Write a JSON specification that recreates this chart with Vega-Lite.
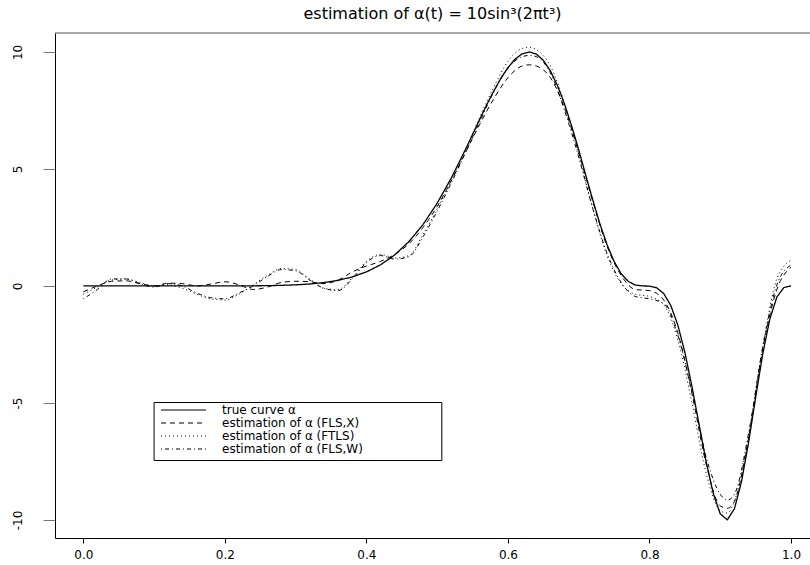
{
  "$schema": "https://vega.github.io/schema/vega-lite/v6.json",
  "width": 755,
  "height": 505,
  "autosize": {"type": "none"},
  "padding": {"left": 55, "top": 33, "right": 0, "bottom": 27},
  "background": "white",
  "title": {"text": "estimation of α(t) = 10sin³(2πt³)", "font": "DejaVu Sans", "fontSize": 16, "fontWeight": "normal", "color": "black", "offset": 11, "anchor": "middle"},
  "datasets": {
    "truth": [
      {"t": 0, "y": 0}, {"t": 0.05, "y": 0}, {"t": 0.1, "y": 0}, {"t": 0.15, "y": 0.0001},
      {"t": 0.2, "y": 0.0013}, {"t": 0.22, "y": 0.003}, {"t": 0.24, "y": 0.0065}, {"t": 0.26, "y": 0.013},
      {"t": 0.28, "y": 0.026}, {"t": 0.3, "y": 0.048}, {"t": 0.32, "y": 0.085}, {"t": 0.34, "y": 0.146},
      {"t": 0.36, "y": 0.241}, {"t": 0.38, "y": 0.386}, {"t": 0.4, "y": 0.6}, {"t": 0.42, "y": 0.905},
      {"t": 0.44, "y": 1.327}, {"t": 0.46, "y": 1.892}, {"t": 0.48, "y": 2.625}, {"t": 0.5, "y": 3.536},
      {"t": 0.52, "y": 4.616}, {"t": 0.54, "y": 5.835}, {"t": 0.56, "y": 7.111}, {"t": 0.57, "y": 7.742},
      {"t": 0.58, "y": 8.33}, {"t": 0.59, "y": 8.874}, {"t": 0.6, "y": 9.333}, {"t": 0.61, "y": 9.69},
      {"t": 0.62, "y": 9.92}, {"t": 0.63, "y": 10}, {"t": 0.64, "y": 9.911}, {"t": 0.65, "y": 9.646},
      {"t": 0.66, "y": 9.19}, {"t": 0.67, "y": 8.562}, {"t": 0.68, "y": 7.767}, {"t": 0.69, "y": 6.833},
      {"t": 0.7, "y": 5.821}, {"t": 0.71, "y": 4.725}, {"t": 0.72, "y": 3.662}, {"t": 0.73, "y": 2.649},
      {"t": 0.74, "y": 1.764}, {"t": 0.75, "y": 1.048}, {"t": 0.76, "y": 0.521}, {"t": 0.77, "y": 0.196},
      {"t": 0.78, "y": 0.04}, {"t": 0.79, "y": 0.001}, {"t": 0.8, "y": -0.004}, {"t": 0.81, "y": -0.076},
      {"t": 0.82, "y": -0.319}, {"t": 0.83, "y": -0.828}, {"t": 0.84, "y": -1.665}, {"t": 0.85, "y": -2.838},
      {"t": 0.86, "y": -4.295}, {"t": 0.87, "y": -5.911}, {"t": 0.88, "y": -7.504}, {"t": 0.89, "y": -8.854},
      {"t": 0.9, "y": -9.742}, {"t": 0.91, "y": -9.992}, {"t": 0.92, "y": -9.522}, {"t": 0.93, "y": -8.365},
      {"t": 0.94, "y": -6.688}, {"t": 0.95, "y": -4.763}, {"t": 0.96, "y": -2.908}, {"t": 0.97, "y": -1.419},
      {"t": 0.98, "y": -0.471}, {"t": 0.99, "y": -0.064}, {"t": 1, "y": 0}
    ],
    "est": [
      {"t": 0, "X": -0.25, "F": -0.35, "W": -0.55},
      {"t": 0.02, "X": 0.0, "F": -0.05, "W": -0.15},
      {"t": 0.04, "X": 0.2, "F": 0.25, "W": 0.3},
      {"t": 0.06, "X": 0.22, "F": 0.3, "W": 0.3},
      {"t": 0.08, "X": 0.1, "F": 0.15, "W": 0.1},
      {"t": 0.1, "X": 0.0, "F": 0.0, "W": -0.05},
      {"t": 0.12, "X": 0.12, "F": 0.05, "W": 0.1},
      {"t": 0.14, "X": 0.1, "F": -0.1, "W": 0.0},
      {"t": 0.16, "X": 0.0, "F": -0.35, "W": -0.3},
      {"t": 0.18, "X": 0.08, "F": -0.55, "W": -0.5},
      {"t": 0.2, "X": 0.18, "F": -0.6, "W": -0.55},
      {"t": 0.22, "X": 0.05, "F": -0.35, "W": -0.3},
      {"t": 0.24, "X": -0.15, "F": 0.05, "W": 0.0},
      {"t": 0.26, "X": -0.05, "F": 0.45, "W": 0.4},
      {"t": 0.28, "X": 0.15, "F": 0.75, "W": 0.7},
      {"t": 0.3, "X": 0.2, "F": 0.7, "W": 0.65},
      {"t": 0.32, "X": 0.18, "F": 0.3, "W": 0.25},
      {"t": 0.34, "X": 0.1, "F": -0.1, "W": -0.1},
      {"t": 0.36, "X": 0.25, "F": -0.15, "W": -0.2},
      {"t": 0.38, "X": 0.6, "F": 0.35, "W": 0.3},
      {"t": 0.4, "X": 0.85, "F": 1.05, "W": 1.0},
      {"t": 0.42, "X": 1.05, "F": 1.35, "W": 1.3},
      {"t": 0.44, "X": 1.35, "F": 1.2, "W": 1.15},
      {"t": 0.46, "X": 1.8, "F": 1.3, "W": 1.25},
      {"t": 0.48, "X": 2.5, "F": 2.2, "W": 2.1},
      {"t": 0.5, "X": 3.4, "F": 3.3, "W": 3.2},
      {"t": 0.52, "X": 4.5, "F": 4.5, "W": 4.4},
      {"t": 0.54, "X": 5.7, "F": 5.8, "W": 5.7},
      {"t": 0.56, "X": 6.9, "F": 7.2, "W": 7.0},
      {"t": 0.58, "X": 8.0, "F": 8.5, "W": 8.3},
      {"t": 0.6, "X": 8.9, "F": 9.6, "W": 9.3},
      {"t": 0.62, "X": 9.4, "F": 10.15, "W": 9.8},
      {"t": 0.63, "X": 9.45, "F": 10.2, "W": 9.85},
      {"t": 0.64, "X": 9.4, "F": 10.1, "W": 9.8},
      {"t": 0.66, "X": 8.9, "F": 9.4, "W": 9.1},
      {"t": 0.68, "X": 7.6, "F": 7.8, "W": 7.5},
      {"t": 0.7, "X": 5.7, "F": 5.6, "W": 5.5},
      {"t": 0.72, "X": 3.6, "F": 3.3, "W": 3.3},
      {"t": 0.74, "X": 1.7, "F": 1.3, "W": 1.4},
      {"t": 0.76, "X": 0.45, "F": 0.1, "W": 0.15},
      {"t": 0.78, "X": -0.15, "F": -0.35, "W": -0.45},
      {"t": 0.8, "X": -0.2, "F": -0.45, "W": -0.55},
      {"t": 0.82, "X": -0.6, "F": -0.8, "W": -0.75},
      {"t": 0.84, "X": -2.0, "F": -2.3, "W": -2.1},
      {"t": 0.86, "X": -4.6, "F": -5.0, "W": -4.5},
      {"t": 0.88, "X": -7.6, "F": -8.0, "W": -7.3},
      {"t": 0.9, "X": -9.4, "F": -9.6, "W": -8.9},
      {"t": 0.91, "X": -9.5, "F": -9.7, "W": -9.15},
      {"t": 0.92, "X": -9.2, "F": -9.2, "W": -8.9},
      {"t": 0.94, "X": -6.5, "F": -6.4, "W": -6.3},
      {"t": 0.96, "X": -2.7, "F": -2.6, "W": -2.6},
      {"t": 0.98, "X": -0.15, "F": 0.3, "W": 0.05},
      {"t": 1, "X": 0.8, "F": 1.1, "W": 0.9}
    ]
  },
  "layer": [
    {
      "data": {"values": [{}]},
      "mark": {"type": "rule", "color": "#555555", "strokeWidth": 1},
      "encoding": {"y": {"datum": 10.81, "type": "quantitative"}}
    },
    {
      "data": {"values": [{}]},
      "mark": {"type": "rect", "fill": "transparent", "stroke": "black", "strokeWidth": 1},
      "encoding": {
        "x": {"datum": 0.1, "type": "quantitative"},
        "x2": {"datum": 0.5066},
        "y": {"datum": -4.98, "type": "quantitative"},
        "y2": {"datum": -7.46}
      }
    },
    {
      "data": {"name": "est"},
      "transform": [{"fold": ["X", "F", "W"], "as": ["s", "y"]}],
      "mark": {"type": "line", "interpolate": "monotone", "strokeWidth": 1, "color": "black"},
      "encoding": {
        "x": {
          "field": "t", "type": "quantitative",
          "scale": {"domain": [-0.04, 1.0268], "nice": false, "zero": false},
          "axis": {"values": [0, 0.2, 0.4, 0.6, 0.8, 1], "format": ".1f", "title": null, "grid": false,
                   "domainColor": "black", "tickColor": "black", "tickSize": 5, "labelPadding": 6,
                   "labelFont": "DejaVu Sans", "labelFontSize": 12, "labelColor": "black", "labelFlush": false}
        },
        "y": {
          "field": "y", "type": "quantitative",
          "scale": {"domain": [-10.77, 10.81], "nice": false, "zero": false},
          "axis": {"values": [-10, -5, 0, 5, 10], "title": null, "grid": false, "labelExpr": "'' + datum.value",
                   "domainColor": "black", "tickColor": "#777777", "tickSize": 12, "labelAngle": 270,
                   "labelAlign": "center", "labelBaseline": "bottom", "labelPadding": 19,
                   "labelFont": "DejaVu Sans", "labelFontSize": 12, "labelColor": "black"}
        },
        "strokeDash": {
          "field": "s", "type": "nominal",
          "scale": {"domain": ["T", "X", "F", "W"], "range": [[1, 0], [5, 4], [1, 3], [1, 3, 4, 3]]},
          "legend": {
            "title": null, "orient": "none", "legendX": 99, "legendY": 367,
            "symbolType": "M-0.6,0H8.4", "symbolSize": 100, "symbolStrokeWidth": 1,
            "symbolStrokeColor": "black", "symbolFillColor": "transparent",
            "labelOffset": 52, "labelFont": "DejaVu Sans", "labelFontSize": 12, "labelColor": "black",
            "padding": 4, "rowPadding": 1,
            "labelExpr": "datum.value == 'T' ? 'true curve α' : datum.value == 'X' ? 'estimation of α (FLS,X)' : datum.value == 'F' ? 'estimation of α (FTLS)' : 'estimation of α (FLS,W)'"
          }
        }
      }
    },
    {
      "data": {"name": "truth"},
      "mark": {"type": "line", "strokeWidth": 1.3, "color": "black"},
      "encoding": {
        "x": {"field": "t", "type": "quantitative"},
        "y": {"field": "y", "type": "quantitative"},
        "strokeDash": {"datum": "T", "type": "nominal"}
      }
    }
  ],
  "config": {
    "view": {"stroke": null},
    "font": "DejaVu Sans",
    "axis": {"domainWidth": 1, "tickWidth": 1}
  }
}
